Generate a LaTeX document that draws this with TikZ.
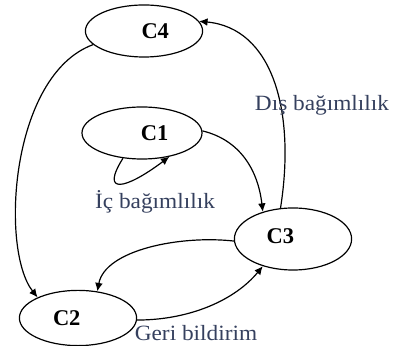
\documentclass[tikz,border=0pt]{standalone}
\usepackage{fontspec}
\setmainfont{Liberation Serif}
\newfontfamily\lblfont[FakeStretch=1.07]{Liberation Serif}
\usepackage{tikz}
\usetikzlibrary{shapes.geometric}
\usetikzlibrary{arrows.meta}
\definecolor{lblcol}{HTML}{35405E}

\begin{document}
\begin{tikzpicture}[x=0.025cm, y=-0.025cm,
  comp/.style={draw, ellipse, line width=0.85pt, minimum width=2.93cm, minimum height=1.3cm, inner sep=0pt},
  ctext/.style={font=\fontsize{16}{18}\selectfont\bfseries},
  lbl/.style={text=lblcol, font=\lblfont\fontsize{15.5}{18}\selectfont, inner sep=0pt},
  arr/.style={line width=0.85pt, -{Latex[length=6pt,width=5.5pt]}}]
\useasboundingbox (0,0) rectangle (397,346);
\node[comp, label={[ctext, xshift=8pt]center:C4}] (c4) at (144,31) {};
\node[comp, minimum width=3cm, label={[ctext, xshift=9pt]center:C1}] (c1) at (142,133) {};
\node[comp, minimum height=1.55cm, label={[ctext, xshift=-9pt, yshift=2pt]center:C3}] (c3) at (293,239) {};
\node[comp, minimum height=1.38cm, label={[ctext, xshift=-8pt]center:C2}] (c2) at (78,318) {};
\draw[arr] (c4.195) .. controls (10,75) and (0,250) .. (c2.153);
\draw[arr] (c3.112) .. controls (296,110) and (272,28) .. (c4.10);
\draw[arr] (c1.2) .. controls (240,140) and (258,170) .. (c3.138);
\draw[arr] (c1.233) .. controls (100,195) and (125,190) .. (c1.319);
\draw[arr] (c3.182) .. controls (180,235) and (105,250) .. (c2.54);
\draw[arr] (c2.358) .. controls (190,320) and (235,300) .. (c3.222);
\node[lbl] (dis) at (322,105) {Dış bağımlılık};
\node[lbl] (ic) at (155,202) {İç bağımlılık};
\node[lbl] (geri) at (196,333) {Geri bildirim};
\end{tikzpicture}
\end{document}
